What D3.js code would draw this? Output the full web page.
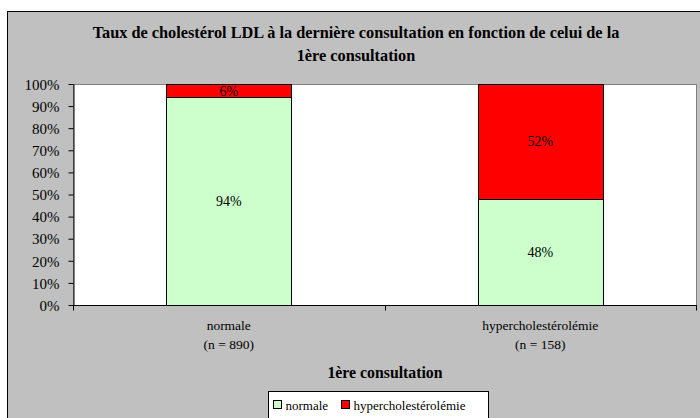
<!DOCTYPE html>
<html>
<head>
<meta charset="utf-8">
<script src="https://cdn.jsdelivr.net/npm/d3@7"></script>
<style>
  body { margin: 0; background: #fff; }
</style>
</head>
<body>
<div id="chart"></div>
<script>
// data
const categories = ["normale", "hypercholestérolémie"];
const counts = ["(n = 890)", "(n = 158)"];
const seriesNames = ["normale", "hypercholestérolémie"];
const normaleValues = [94, 48];
const hyperValues = [6, 52];
const yTicks = [0, 10, 20, 30, 40, 50, 60, 70, 80, 90, 100];
const colors = ["#CCFFCC", "#FF0000"];

const FONT = "'Liberation Serif', 'Times New Roman', Times, serif";
const W = 700, H = 418;
const margin = {top: 84, left: 73, right: 4, bottom: 113};

const svg = d3.select("#chart").append("svg")
  .attr("width", W).attr("height", H)
  .style("font-family", FONT);

// chart background
svg.append("rect")
  .attr("x", 7.5).attr("y", 11.5)
  .attr("width", W).attr("height", H)
  .attr("fill", "#C0C0C0")
  .attr("stroke", "#000").attr("stroke-width", 1);

// title
const title = svg.append("text")
  .attr("text-anchor", "middle")
  .attr("font-weight", "bold")
  .attr("font-size", 16.3)
  .style("font-family", FONT);
title.append("tspan").attr("x", 356).attr("y", 38)
  .text("Taux de cholestérol LDL à la dernière consultation en fonction de celui de la");
title.append("tspan").attr("x", 356).attr("y", 61)
  .text("1ère consultation");

const x = d3.scaleBand()
  .domain(categories)
  .range([margin.left, W - margin.right])
  .paddingInner(0.6)
  .paddingOuter(0.3);

// band without padding, for ticks
const xOuter = d3.scaleBand()
  .domain(categories)
  .range([margin.left, W - margin.right]);

const y = d3.scaleLinear()
  .domain([0, 100])
  .range([H - margin.bottom, margin.top]);

// plot area
svg.append("rect")
  .attr("x", margin.left + 0.5).attr("y", margin.top + 0.5)
  .attr("width", W - margin.right - margin.left)
  .attr("height", y(0) - y(100))
  .attr("fill", "#fff")
  .attr("stroke", "#808080");

// stacked data
const table = categories.map((c, i) => ({cat: c, normale: normaleValues[i], hyper: hyperValues[i]}));
const stack = d3.stack().keys(["normale", "hyper"])(table);

svg.append("g").selectAll("g")
  .data(stack).enter().append("g")
  .attr("fill", (d, i) => colors[i])
  .selectAll("rect")
  .data(d => d).enter().append("rect")
  .attr("x", d => Math.round(x(d.data.cat)) + 0.5)
  .attr("y", d => Math.round(y(d[1])) + 0.5)
  .attr("width", Math.round(x.bandwidth()))
  .attr("height", d => Math.round(y(d[0])) - Math.round(y(d[1])))
  .attr("stroke", "#000")
  .attr("stroke-width", 1);

// value labels
svg.append("g").selectAll("g")
  .data(stack).enter().append("g")
  .selectAll("text")
  .data(d => d).enter().append("text")
  .attr("x", d => x(d.data.cat) + x.bandwidth() / 2)
  .attr("y", d => (y(d[0]) + y(d[1])) / 2 + 5)
  .attr("text-anchor", "middle")
  .attr("font-size", 14)
  .attr("fill", "#000")
  .style("font-family", FONT)
  .text(d => (d[1] - d[0]) + "%");

// y axis
const yAxis = svg.append("g")
  .attr("transform", "translate(" + (margin.left + 0.5) + ",0)")
  .call(d3.axisLeft(y).tickValues(yTicks).tickFormat(d => d + "%").tickSize(5).tickSizeOuter(0));
yAxis.attr("font-family", null).attr("font-size", null);
yAxis.select(".domain").attr("stroke", "#000");
yAxis.selectAll("text").attr("font-size", 15).attr("fill", "#000")
  .style("font-family", FONT).attr("x", -14).attr("dy", "0.35em");

// x axis
const xAxisY = y(0) + 0.5;
svg.append("line")
  .attr("x1", margin.left).attr("x2", W - margin.right + 1)
  .attr("y1", xAxisY).attr("y2", xAxisY)
  .attr("stroke", "#000");
const tickXs = categories.map(c => xOuter(c)).concat([W - margin.right]);
svg.append("g").selectAll("line")
  .data(tickXs).enter().append("line")
  .attr("x1", d => Math.round(d) + 0.5).attr("x2", d => Math.round(d) + 0.5)
  .attr("y1", xAxisY).attr("y2", xAxisY + 5)
  .attr("stroke", "#000");

// category labels
const catLabels = svg.append("g").selectAll("text")
  .data(categories).enter().append("text")
  .attr("text-anchor", "middle")
  .attr("font-size", 13.5)
  .attr("fill", "#000")
  .style("font-family", FONT);
catLabels.append("tspan")
  .attr("x", d => xOuter(d) + xOuter.bandwidth() / 2)
  .attr("y", 330)
  .text(d => d);
catLabels.append("tspan")
  .attr("x", d => xOuter(d) + xOuter.bandwidth() / 2)
  .attr("y", 349)
  .text((d, i) => counts[i]);

// x axis title
svg.append("text")
  .attr("x", 385).attr("y", 378)
  .attr("text-anchor", "middle")
  .attr("font-weight", "bold")
  .attr("font-size", 15.8)
  .style("font-family", FONT)
  .text("1ère consultation");

// legend
const legend = svg.append("g").attr("transform", "translate(268.5,391.5)");
legend.append("rect")
  .attr("width", 220).attr("height", 40)
  .attr("fill", "#fff").attr("stroke", "#000");
const legX = [5, 73];
seriesNames.forEach((s, i) => {
  legend.append("rect")
    .attr("x", legX[i]).attr("y", 9)
    .attr("width", 8).attr("height", 8)
    .attr("fill", colors[i]).attr("stroke", "#000");
  legend.append("text")
    .attr("x", legX[i] + 12).attr("y", 18)
    .attr("font-size", 13)
    .style("font-family", FONT)
    .text(s);
});
</script>
</body>
</html>
